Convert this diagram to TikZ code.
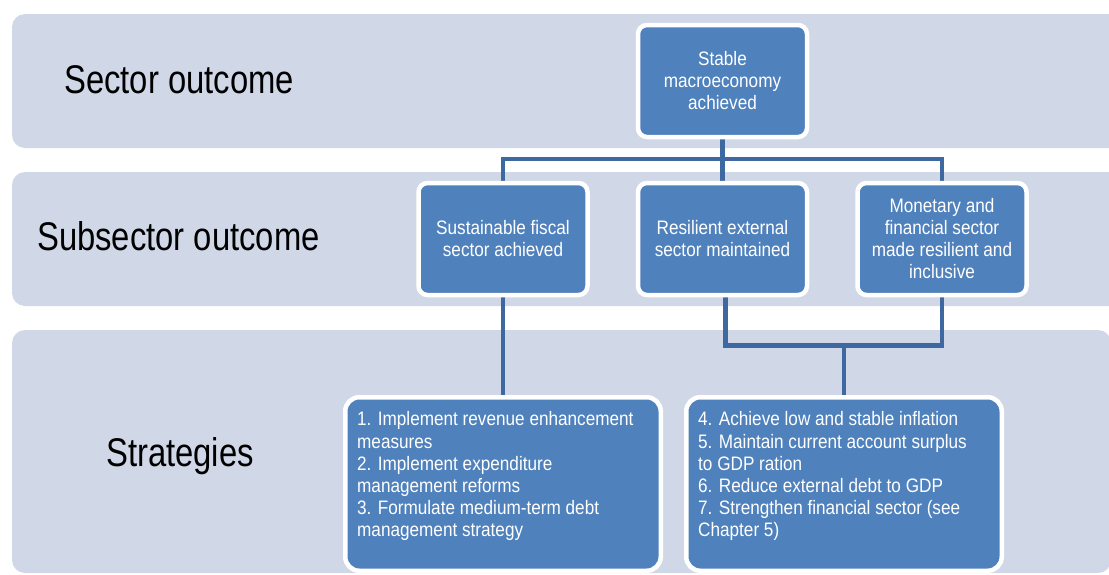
\documentclass[tikz,border=0pt]{standalone}
\usepackage{fontspec}
\setmainfont{Liberation Sans}[FakeStretch=0.88]
\newfontfamily\labelfont{Liberation Sans}[FakeStretch=0.82]
\definecolor{bandfill}{RGB}{208,216,232}
\definecolor{boxblue}{RGB}{79,129,189}
\definecolor{linkblue}{RGB}{62,104,160}
\pgfdeclarelayer{bands}
\pgfdeclarelayer{links}
\pgfsetlayers{bands,links,main}
\tikzset{
  band/.style={fill=bandfill, draw=none, rounded corners=13pt},
  levellabel/.style={font=\labelfont\fontsize{40}{44}\selectfont, text=black, anchor=base west, inner sep=0pt},
  outcomebox/.style={draw=white, line width=4.5pt, fill=boxblue, rounded corners=9pt,
    minimum width=169pt, minimum height=112pt, align=center, text=white, inner sep=3pt,
    font=\fontsize{19.5}{22}\selectfont},
  strategybox/.style={draw=white, line width=4.5pt, fill=boxblue, rounded corners=14pt,
    minimum width=315.5pt, minimum height=173.5pt, inner sep=0pt},
  listtext/.style={text=white, align=left, anchor=north west, inner sep=0pt,
    font=\fontsize{19.5}{22.2}\selectfont},
  link/.style={draw=linkblue, line width=4.5pt, line join=miter},
}
\begin{document}
\begin{tikzpicture}[x=1pt, y=-1pt]
\useasboundingbox (0,0) rectangle (1109,574);

% horizontal bands, one per level
\begin{pgfonlayer}{bands}
\path[band] (12,14) rectangle (1135,148);
\path[band] (12,172) rectangle (1135,306);
\path[band] (12,330) rectangle (1111,573);
\end{pgfonlayer}

\node[levellabel] (lsector) at (64,93) {Sector outcome};
\node[levellabel] (lsub) at (37,250.7) {Subsector outcome};
\node[levellabel] (lstrat) at (106,466) {Strategies};

% outcome boxes
\node[outcomebox] (top) at (722.5,81) {Stable\\macroeconomy\\achieved};
\node[outcomebox] (fiscal) at (503,239) {Sustainable fiscal\\sector achieved};
\node[outcomebox] (external) at (722.5,239) {Resilient external\\sector maintained};
\node[outcomebox] (monetary) at (942,239) {Monetary and\\financial sector\\made resilient and\\inclusive};

% strategy boxes
\node[strategybox] (sfiscal) at (503,484) {};
\node[strategybox] (sother) at (844,484) {};

\node[listtext] (sfiscaltext) at (357,411.5) {1. Implement revenue enhancement\\measures\\2. Implement expenditure\\management reforms\\3. Formulate medium-term debt\\management strategy};
\node[listtext] (sothertext) at (698,411.5) {4. Achieve low and stable inflation\\5. Maintain current account surplus\\to GDP ration\\6. Reduce external debt to GDP\\7. Strengthen financial sector (see\\Chapter 5)};

% junction points of the connectors
\coordinate (hub) at (top.center |- 0,159);
\coordinate (join) at (sother.center |- 0,345.7);

% connectors, kept behind the boxes
\begin{pgfonlayer}{links}
\draw[link] (top.center) -- (external.center);
\draw[link] (fiscal.center) |- (hub) -| (monetary.center);
\draw[link] (fiscal.center) -- (sfiscal.center);
\draw[link] ([xshift=3pt]external.center) |- (join) -| (monetary.center);
\draw[link] (join) -- (sother.center);
\end{pgfonlayer}
\end{tikzpicture}
\end{document}
